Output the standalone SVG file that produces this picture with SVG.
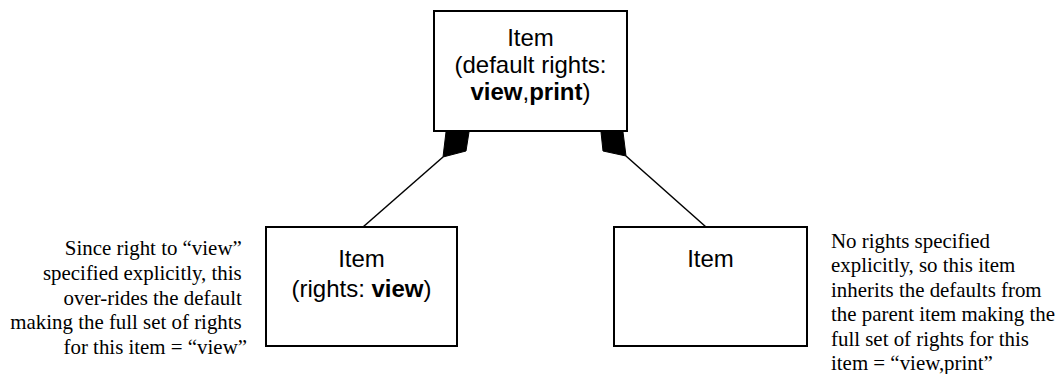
<svg xmlns="http://www.w3.org/2000/svg" width="1063" height="374" viewBox="0 0 1063 374">
  <style>
    .box { fill: #ffffff; stroke: #000000; stroke-width: 2; }
    .label { font-family: "Liberation Sans", Arial, sans-serif; font-size: 24px; fill: #000000; text-anchor: middle; }
    .bold { font-weight: bold; }
    .note { font-family: "Liberation Serif", "Times New Roman", serif; font-size: 20.9px; fill: #000000; }
    .edge { stroke: #000000; stroke-width: 1.5; fill: none; }
    .diamond { fill: #000000; stroke: #000000; stroke-width: 1; stroke-linejoin: round; }
  </style>
  <rect width="1063" height="374" fill="#ffffff"/>

  <!-- aggregation connectors from children to parent -->
  <g id="connectors">
    <line class="edge" x1="443" y1="157" x2="363" y2="227"/>
    <polygon class="diamond" points="446,132 469,132 466,151 443,157"/>
    <line class="edge" x1="626" y1="156" x2="706" y2="227"/>
    <polygon class="diamond" points="601,132 623,132 626,156 603,151"/>
  </g>

  <g id="parent-item">
    <rect class="box" x="434" y="11" width="193" height="120"/>
    <text class="label" x="530.5" y="46">Item</text>
    <text class="label" x="530.5" y="73">(default rights:</text>
    <text class="label" x="530.5" y="100"><tspan class="bold">view</tspan>,<tspan class="bold">print</tspan>)</text>
  </g>

  <g id="child-item-view">
    <rect class="box" x="266" y="227" width="191" height="119"/>
    <text class="label" x="361.5" y="267">Item</text>
    <text class="label" x="361.5" y="297">(rights: <tspan class="bold">view</tspan>)</text>
  </g>

  <g id="child-item-inherit">
    <rect class="box" x="614" y="227" width="193" height="119"/>
    <text class="label" x="710.5" y="267">Item</text>
  </g>

  <g id="note-left">
    <text class="note" text-anchor="end">
      <tspan x="247" y="255">Since right to “view”</tspan>
      <tspan x="247" y="280">specified explicitly, this</tspan>
      <tspan x="247" y="305">over-rides the default</tspan>
      <tspan x="247" y="329">making the full set of rights</tspan>
      <tspan x="247" y="354">for this item = “view”</tspan>
    </text>
  </g>

  <g id="note-right">
    <text class="note" text-anchor="start">
      <tspan x="831" y="247.5">No rights specified</tspan>
      <tspan x="831" y="272">explicitly, so this item</tspan>
      <tspan x="831" y="296.5">inherits the defaults from</tspan>
      <tspan x="831" y="321">the parent item making the</tspan>
      <tspan x="831" y="345.5">full set of rights for this</tspan>
      <tspan x="831" y="370">item = “view,print”</tspan>
    </text>
  </g>
</svg>
